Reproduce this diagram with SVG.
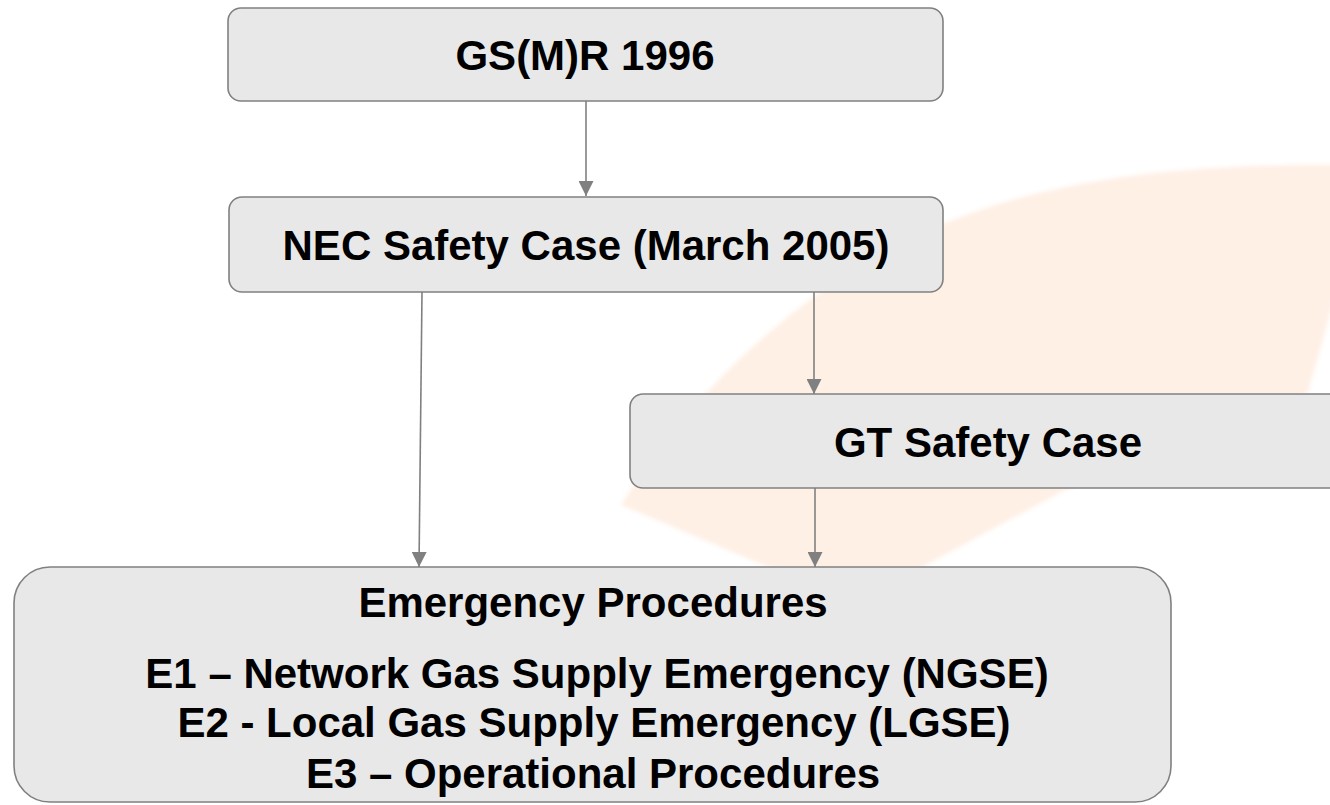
<svg xmlns="http://www.w3.org/2000/svg" width="1330" height="805" viewBox="0 0 1330 805">
  <style>
    .box { fill: #E8E8E8; stroke: #808080; stroke-width: 1.6; }
    .lbl { font-family: "Liberation Sans", Arial, sans-serif; font-weight: bold; font-size: 42px; fill: #000000; text-anchor: middle; }
    .conn { stroke: #808080; stroke-width: 1.6; fill: none; marker-end: url(#arrow); }
  </style>
  <defs>
    <marker id="arrow" markerUnits="userSpaceOnUse" markerWidth="15" markerHeight="15" viewBox="0 0 15 15" refX="15" refY="7.5" orient="auto">
      <path d="M0,0 L15,7.5 L0,15 Z" fill="#808080"/>
    </marker>
    <filter id="soft" x="-5%" y="-5%" width="110%" height="110%">
      <feGaussianBlur stdDeviation="2"/>
    </filter>
  </defs>
  <rect x="0" y="0" width="1330" height="805" fill="#FFFFFF"/>
  <g id="watermark">
    <path d="M621,505 C680,410 760,330 850,272 C960,202 1100,162 1345,165 L1345,250 C1335,300 1320,350 1308,392 C1240,430 1150,460 1065,490 L926,565 L864,605 L763,565 Z" fill="#FEF0E5" filter="url(#soft)"/>
  </g>
  <g id="connectors">
    <line class="conn" x1="586" y1="101" x2="586" y2="196"/>
    <line class="conn" x1="422" y1="292" x2="419" y2="567"/>
    <line class="conn" x1="814" y1="292" x2="814" y2="394"/>
    <line class="conn" x1="815" y1="488" x2="815" y2="567"/>
  </g>
  <g id="node-gsmr">
    <rect class="box" x="228" y="8" width="715" height="93" rx="13" ry="13"/>
    <text class="lbl" x="585" y="70">GS(M)R 1996</text>
  </g>
  <g id="node-nec">
    <rect class="box" x="229" y="197" width="714" height="95" rx="13" ry="13"/>
    <text class="lbl" x="586" y="260">NEC Safety Case (March 2005)</text>
  </g>
  <g id="node-gt">
    <rect class="box" x="630" y="394" width="716" height="94" rx="13" ry="13"/>
    <text class="lbl" x="988" y="457">GT Safety Case</text>
  </g>
  <g id="node-emergency">
    <rect class="box" x="14" y="567" width="1157" height="235" rx="36" ry="36"/>
    <text class="lbl" x="593" y="617">Emergency Procedures</text>
    <text class="lbl" x="597" y="688">E1 – Network Gas Supply Emergency (NGSE)</text>
    <text class="lbl" x="594" y="737">E2 - Local Gas Supply Emergency (LGSE)</text>
    <text class="lbl" x="593" y="788">E3 – Operational Procedures</text>
  </g>
</svg>
